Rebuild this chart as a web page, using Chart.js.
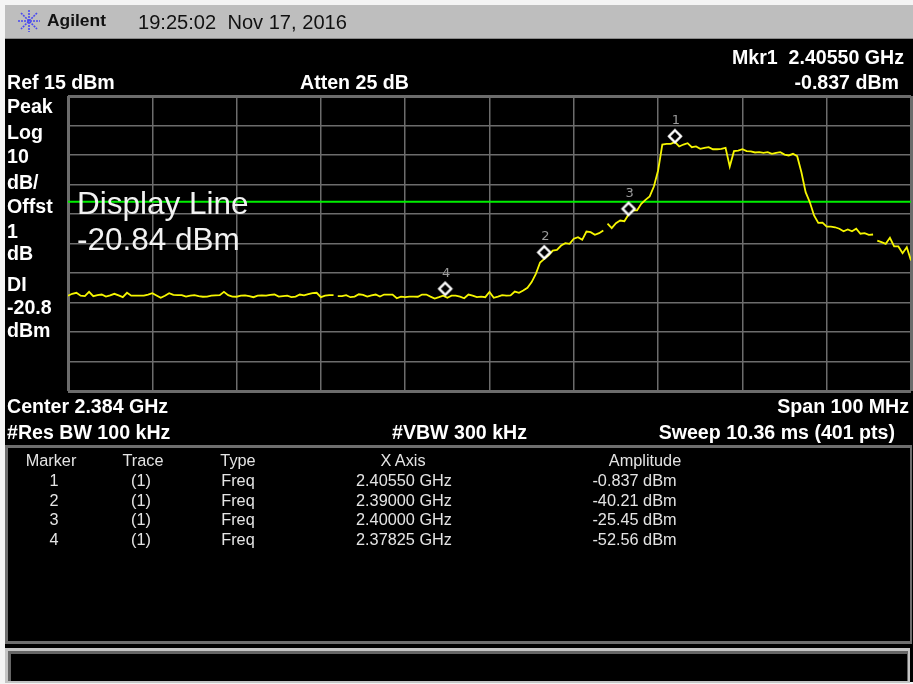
<!DOCTYPE html>
<html>
<head>
<meta charset="utf-8">
<title>Agilent spectrum trace</title>
<script src="https://cdn.jsdelivr.net/npm/chart.js"></script>
<style>
html, body { margin: 0; padding: 0; background: #f4f4f4; }
body { position: relative; width: 913px; height: 684px; overflow: hidden; font-family: "Liberation Sans", Arial, sans-serif; }
.box { position: absolute; box-sizing: border-box; }
.txt { position: absolute; white-space: pre; line-height: 1; transform: translateY(-50%); color: #fff; }
.b { font-weight: bold; font-size: 19.6px; }
.t { font-size: 16.3px; color: #e4e4e4; }
.big { font-size: 31.5px; color: #f2f2f2; }
canvas { position: absolute; left: 0; top: 0; }
</style>
</head>
<body>
<div class="box" style="left:5px;top:5px;width:908px;height:677px;background:#000"></div>
<div class="box" style="left:5px;top:5px;width:908px;height:34px;background:#bebebe;border-bottom:1px solid #8a8a8a"></div>
<div class="box" style="left:5px;top:445px;width:907px;height:199px;border:3px solid #6e6e6e;border-right-width:2px"></div>
<div class="box" style="left:5px;top:648px;width:905px;height:35px;background:#c4c4c4"></div>
<div class="box" style="left:8px;top:651px;width:900px;height:30px;background:#666"></div>
<div class="box" style="left:11px;top:654px;width:896px;height:27px;background:#000"></div>
<svg class="box" style="left:16px;top:9px" width="26" height="24" stroke="#4a4af0" stroke-width="1.6" stroke-dasharray="2 1">
  <line x1="13" y1="1" x2="13" y2="23"/><line x1="2" y1="12" x2="24" y2="12"/>
  <line x1="5" y1="4" x2="21" y2="20"/><line x1="21" y1="4" x2="5" y2="20"/>
</svg>
<canvas id="myChart" width="913" height="684"></canvas>
<script>
// sweep readout, MHz and dBm
var displayLine = -20.84;
var gridFreqs = [2333.5, 2343.5, 2353.5, 2363.5, 2373.5, 2383.5, 2393.5, 2403.5, 2413.5, 2423.5, 2433.5];
var gridLevels = [15, 5, -5, -15, -25, -35, -45, -55, -65, -75, -85];

var traceLevels = [
  -52.7, -52.05, -51.7, -52.7, -52.85, -51.4, -52.85, -52.5, -52.3, -53.0,
  -52.6, -52.05, -52.6, -53.2, -51.7, -52.7, -52.7, -52.7, -52.7, -52.3,
  -51.85, -52.6, -53.4, -52.7, -51.85, -52.4, -52.5, -52.5, -53.0, -52.7,
  -52.5, -52.85, -53.05, -53.0, -52.7, -52.6, -52.5, -51.4, -52.5, -53.0,
  -53.05, -52.7, -52.6, -52.85, -53.2, -52.7, -52.6, -52.7, -52.4, -52.3,
  -53.0, -52.85, -52.7, -53.2, -53.0, -52.3, -52.6, -52.2, -51.85, -51.7,
  -53.2, -52.7, -52.5, -52.5, -52.85, -52.85, -52.5, -53.2, -53.0, -52.2,
  -52.4, -53.0, -52.6, -52.3, -53.0, -52.3, -52.3, -52.3, -53.55, -53.0,
  -53.2, -53.0, -53.0, -53.05, -52.3, -52.3, -53.0, -53.65, -53.2, -52.7,
  -53.4, -52.7, -52.7, -53.0, -53.55, -52.3, -52.7, -53.2, -53.0, -53.2,
  -51.45, -53.4, -53.0, -52.5, -52.7, -52.6, -51.3, -51.7, -50.95, -50.0,
  -48.1, -45.3, -41.45, -40.2, -39.05, -37.4, -37.15, -35.7, -34.9, -35.1,
  -33.4, -32.85, -33.75, -30.95, -31.15, -32.05, -31.5, -30.6, -28.3, -29.8,
  -28.1, -27.2, -27.45, -25.15, -23.8, -23.8, -21.55, -20.2, -19.05, -15.7,
  -10.25, -1.45, -1.2, -1.2, -0.65, -2.1, -1.45, -1.0, -2.35, -2.1,
  -2.9, -2.55, -2.35, -3.05, -3.05, -2.9, -2.55, -8.9, -3.7, -3.5,
  -3.05, -3.7, -3.8, -4.15, -4.05, -4.25, -4.05, -4.6, -4.25, -4.05,
  -4.85, -5.15, -4.6, -5.4, -10.85, -17.6, -21.0, -25.5, -28.0, -27.9,
  -29.25, -29.25, -29.5, -30.0, -30.85, -30.25, -30.85, -30.0, -31.7, -31.5,
  -32.05, -31.95, -34.0, -34.55, -35.1, -33.05, -36.0, -36.0, -38.3, -36.25,
  -40.75
];
// the trace has small holes after these samples
var traceBreaks = [63, 127, 191];

var markerIds = [1, 2, 3, 4];
var markerFreqs = [2405.5, 2390, 2400, 2378.25];
var markerLevels = [-0.837, -40.21, -25.45, -52.56];

var sideLabels = ['Peak', 'Log', '10', 'dB/', 'Offst', '1', 'dB', 'DI', '-20.8', 'dBm'];
var sideRows = [107, 133, 157, 183, 207, 232, 254, 285, 308, 331];

function addText(cls, text, x, y, align) {
    var el = document.createElement('div');
    el.className = 'txt ' + cls;
    el.textContent = text;
    el.style.top = y + 'px';
    if (align === 'right') {
        el.style.right = (913 - x) + 'px';
    } else if (align === 'center') {
        el.style.left = x + 'px';
        el.style.transform = 'translate(-50%, -50%)';
    } else {
        el.style.left = x + 'px';
    }
    document.body.appendChild(el);
    return el;
}

// single diamond, sits a bit above the point it belongs to
function diamondGlyph() {
    var c = document.createElement('canvas');
    c.width = 40;
    c.height = 40;
    var g = c.getContext('2d');
    g.beginPath();
    g.moveTo(20, 7.5);
    g.lineTo(26, 13.5);
    g.lineTo(20, 19.5);
    g.lineTo(14, 13.5);
    g.closePath();
    g.fillStyle = '#000';
    g.fill();
    g.strokeStyle = '#fff';
    g.lineWidth = 2.4;
    g.stroke();
    return c;
}

var markerNumbers = {
    id: 'markerNumbers',
    afterDraw: function (chart) {
        var c = chart.ctx;
        c.save();
        c.font = '13px "DejaVu Sans"';
        c.fillStyle = '#9a9a9a';
        c.textAlign = 'center';
        c.textBaseline = 'middle';
        markerIds.forEach(function (id, i) {
            c.fillText(String(id),
                chart.scales.x.getPixelForValue(markerFreqs[i]) + 1,
                chart.scales.y.getPixelForValue(markerLevels[i]) - 22);
        });
        c.restore();
    }
};

function gridWidth(ctx) {
    return (ctx.index === 0 || ctx.index === 10) ? 3 : 1.5;
}

var ctx = document.getElementById('myChart').getContext('2d');
var myChart = new Chart(ctx, {
    type: 'scatter',
    data: {
        datasets: [{
            label: 'Markers',
            data: markerFreqs.map(function (f, i) { return { x: f, y: markerLevels[i] }; }),
            pointStyle: diamondGlyph(),
            pointRadius: 6,
            showLine: false,
            order: 0
        }, {
            label: 'Trace 1',
            data: traceLevels.map(function (v, i) { return { x: gridFreqs[0] + i * 0.5, y: v }; }),
            showLine: true,
            borderColor: '#f6f600',
            borderWidth: 1.8,
            pointRadius: 0,
            segment: {
                borderColor: function (s) {
                    return traceBreaks.indexOf(s.p0DataIndex) >= 0 ? 'rgba(0,0,0,0)' : undefined;
                }
            },
            order: 1
        }, {
            label: 'Display Line',
            data: [{ x: gridFreqs[0], y: displayLine }, { x: gridFreqs[10], y: displayLine }],
            showLine: true,
            borderColor: '#00f000',
            borderWidth: 2,
            pointRadius: 0,
            order: 2
        }]
    },
    options: {
        responsive: false,
        animation: false,
        layout: { autoPadding: false, padding: { left: 68, top: 96, right: 2, bottom: 293 } },
        plugins: { legend: { display: false }, tooltip: { enabled: false } },
        scales: {
            x: {
                type: 'linear',
                min: gridFreqs[0],
                max: gridFreqs[10],
                afterBuildTicks: function (axis) {
                    axis.ticks = gridFreqs.map(function (v) { return { value: v }; });
                },
                ticks: { display: false },
                border: { display: false },
                grid: { color: '#6c6c6c', lineWidth: gridWidth, drawTicks: false }
            },
            y: {
                min: gridLevels[10],
                max: gridLevels[0],
                afterBuildTicks: function (axis) {
                    axis.ticks = gridLevels.slice().reverse().map(function (v) { return { value: v }; });
                },
                ticks: { display: false },
                border: { display: false },
                grid: { color: '#6c6c6c', lineWidth: gridWidth, drawTicks: false }
            }
        }
    },
    plugins: [markerNumbers]
});

// instrument chrome text
var agilent = addText('b', 'Agilent', 47, 21);
agilent.style.color = '#111';
agilent.style.fontSize = '17.4px';
var stamp = addText('b', '19:25:02  Nov 17, 2016', 138, 22);
stamp.style.color = '#111';
stamp.style.fontWeight = 'normal';
stamp.style.fontSize = '20.1px';

addText('b', 'Mkr1  2.40550 GHz', 904, 58, 'right');
addText('b', 'Ref 15 dBm', 7, 83);
addText('b', 'Atten 25 dB', 300, 83);
addText('b', '-0.837 dBm', 899, 83, 'right');
sideLabels.forEach(function (s, i) { addText('b', s, 7, sideRows[i]); });
addText('big', 'Display Line', 77, 204);
addText('big', '-20.84 dBm', 77, 240);
addText('b', 'Center 2.384 GHz', 7, 407);
addText('b', 'Span 100 MHz', 909, 407, 'right');
addText('b', '#Res BW 100 kHz', 7, 433);
addText('b', '#VBW 300 kHz', 392, 433);
addText('b', 'Sweep 10.36 ms (401 pts)', 895, 433, 'right');

// marker table
addText('t', 'Marker', 51, 460, 'center');
addText('t', 'Trace', 143, 460, 'center');
addText('t', 'Type', 238, 460, 'center');
addText('t', 'X Axis', 403, 460, 'center');
addText('t', 'Amplitude', 645, 460, 'center');
var tableRows = [480, 499.5, 519, 538.5];
markerIds.forEach(function (id, i) {
    addText('t', String(id), 54, tableRows[i], 'center');
    addText('t', '(1)', 141, tableRows[i], 'center');
    addText('t', 'Freq', 238, tableRows[i], 'center');
    addText('t', (markerFreqs[i] / 1000).toFixed(5) + ' GHz', 404, tableRows[i], 'center');
    addText('t', markerLevels[i] + ' dBm', 634.5, tableRows[i], 'center');
});
</script>
</body>
</html>
